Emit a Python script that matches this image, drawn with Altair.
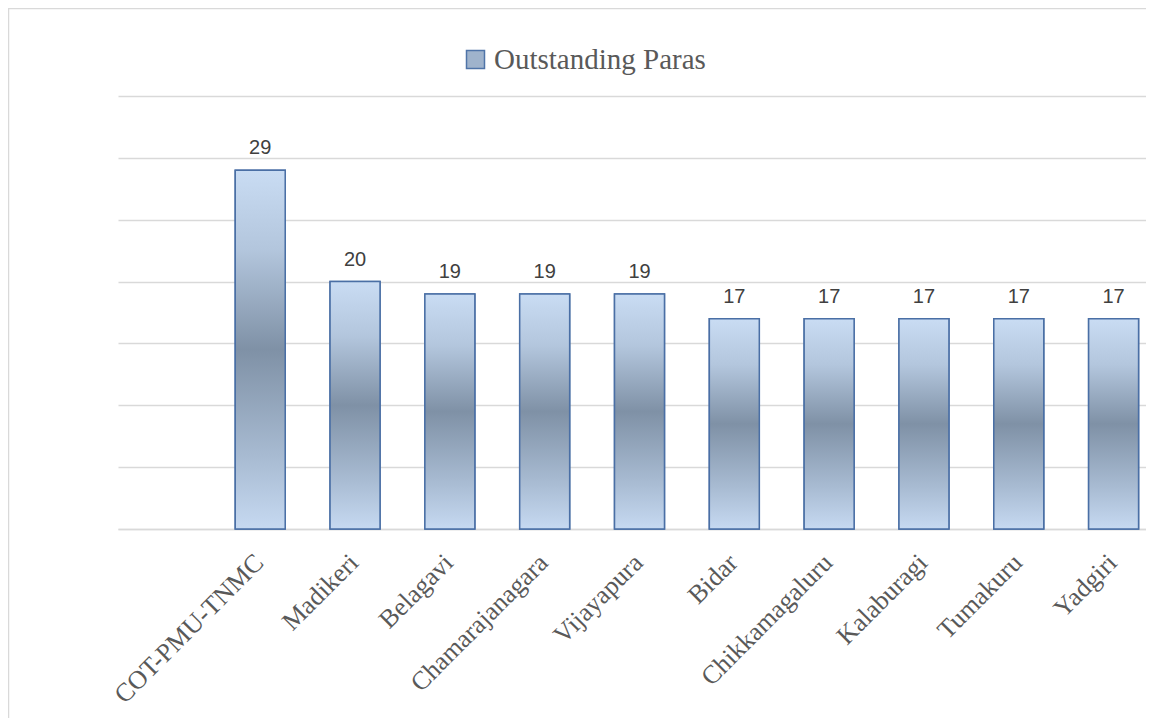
import altair as alt
import pandas as pd

categories = ["COT-PMU-TNMC", "Madikeri", "Belagavi", "Chamarajanagara", "Vijayapura",
              "Bidar", "Chikkamagaluru", "Kalaburagi", "Tumakuru", "Yadgiri"]
values = [29, 20, 19, 19, 19, 17, 17, 17, 17, 17]
series_name = "Outstanding Paras"
y_ticks = [0, 5, 10, 15, 20, 25, 30, 35]

df = pd.DataFrame({"district": categories, "paras": values, "series": series_name})
domain = [" "] + categories

xscale = alt.Scale(domain=domain, range=[0, 1043], paddingInner=0.473, paddingOuter=0.2365)
yscale = alt.Scale(domain=[0, 35], nice=False)

x_enc = alt.X("district:N", scale=xscale, sort=domain, title=None,
              axis=alt.Axis(labelAngle=-45, labelFont="Liberation Serif", labelFontSize=26,
                            labelColor="#595959", ticks=False, domainColor="#d9d9d9",
                            domainWidth=1.5, labelPadding=20, labelOffset=-10, grid=False,
                            labelLimit=400))
y_enc = alt.Y("paras:Q", scale=yscale, title=None,
              axis=alt.Axis(values=y_ticks, labels=False, ticks=False, domain=False,
                            grid=True, gridColor="#d9d9d9", gridWidth=1.5))

base = alt.Chart(df)

legend_bars = base.mark_bar(stroke="#4a6fa5", strokeWidth=1.5).encode(
    x=x_enc, y=y_enc,
    color=alt.Color("series:N", scale=alt.Scale(range=["#9fb3cc"]), title=None,
                    legend=alt.Legend(orient="none", legendX=343, legendY=-51,
                                      symbolType="square", symbolSize=324,
                                      symbolStrokeColor="#4f74a8", symbolStrokeWidth=1.5,
                                      labelFont="Liberation Serif", labelFontSize=29,
                                      labelColor="#595959", labelOffset=4, padding=0,
                                      labelLimit=500)),
)

gradient = alt.Gradient(
    gradient="linear", x1=0, y1=0, x2=0, y2=1,
    stops=[
        alt.GradientStop(color="#c9dcf3", offset=0),
        alt.GradientStop(color="#b3c6dd", offset=0.22),
        alt.GradientStop(color="#7f91a6", offset=0.5),
        alt.GradientStop(color="#a8bbd2", offset=0.8),
        alt.GradientStop(color="#c6d9f1", offset=1),
    ],
)

bars = base.mark_bar(fill=gradient, stroke="#4a6fa5", strokeWidth=1.5).encode(x=x_enc, y=y_enc)

labels = base.mark_text(baseline="bottom", dy=-12, font="Liberation Sans", fontSize=20,
                        color="#404040").encode(x=x_enc, y=y_enc, text="paras:Q")

frame = alt.Chart(alt.Data(values=[{}])).mark_rect(fill=None, stroke="#d9d9d9", strokeWidth=1.5).encode(
    x=alt.value(-109.5), x2=alt.value(1100), y=alt.value(-87.5), y2=alt.value(700))

chart = alt.layer(frame, legend_bars, bars, labels).properties(
    width=1028, height=433,
    autosize=alt.AutoSizeParams(type="none"),
    padding={"left": 110, "top": 88, "right": 0, "bottom": 189},
).configure_view(stroke=None)

chart.save("out.html", embed_options={"renderer": "svg", "actions": False})
